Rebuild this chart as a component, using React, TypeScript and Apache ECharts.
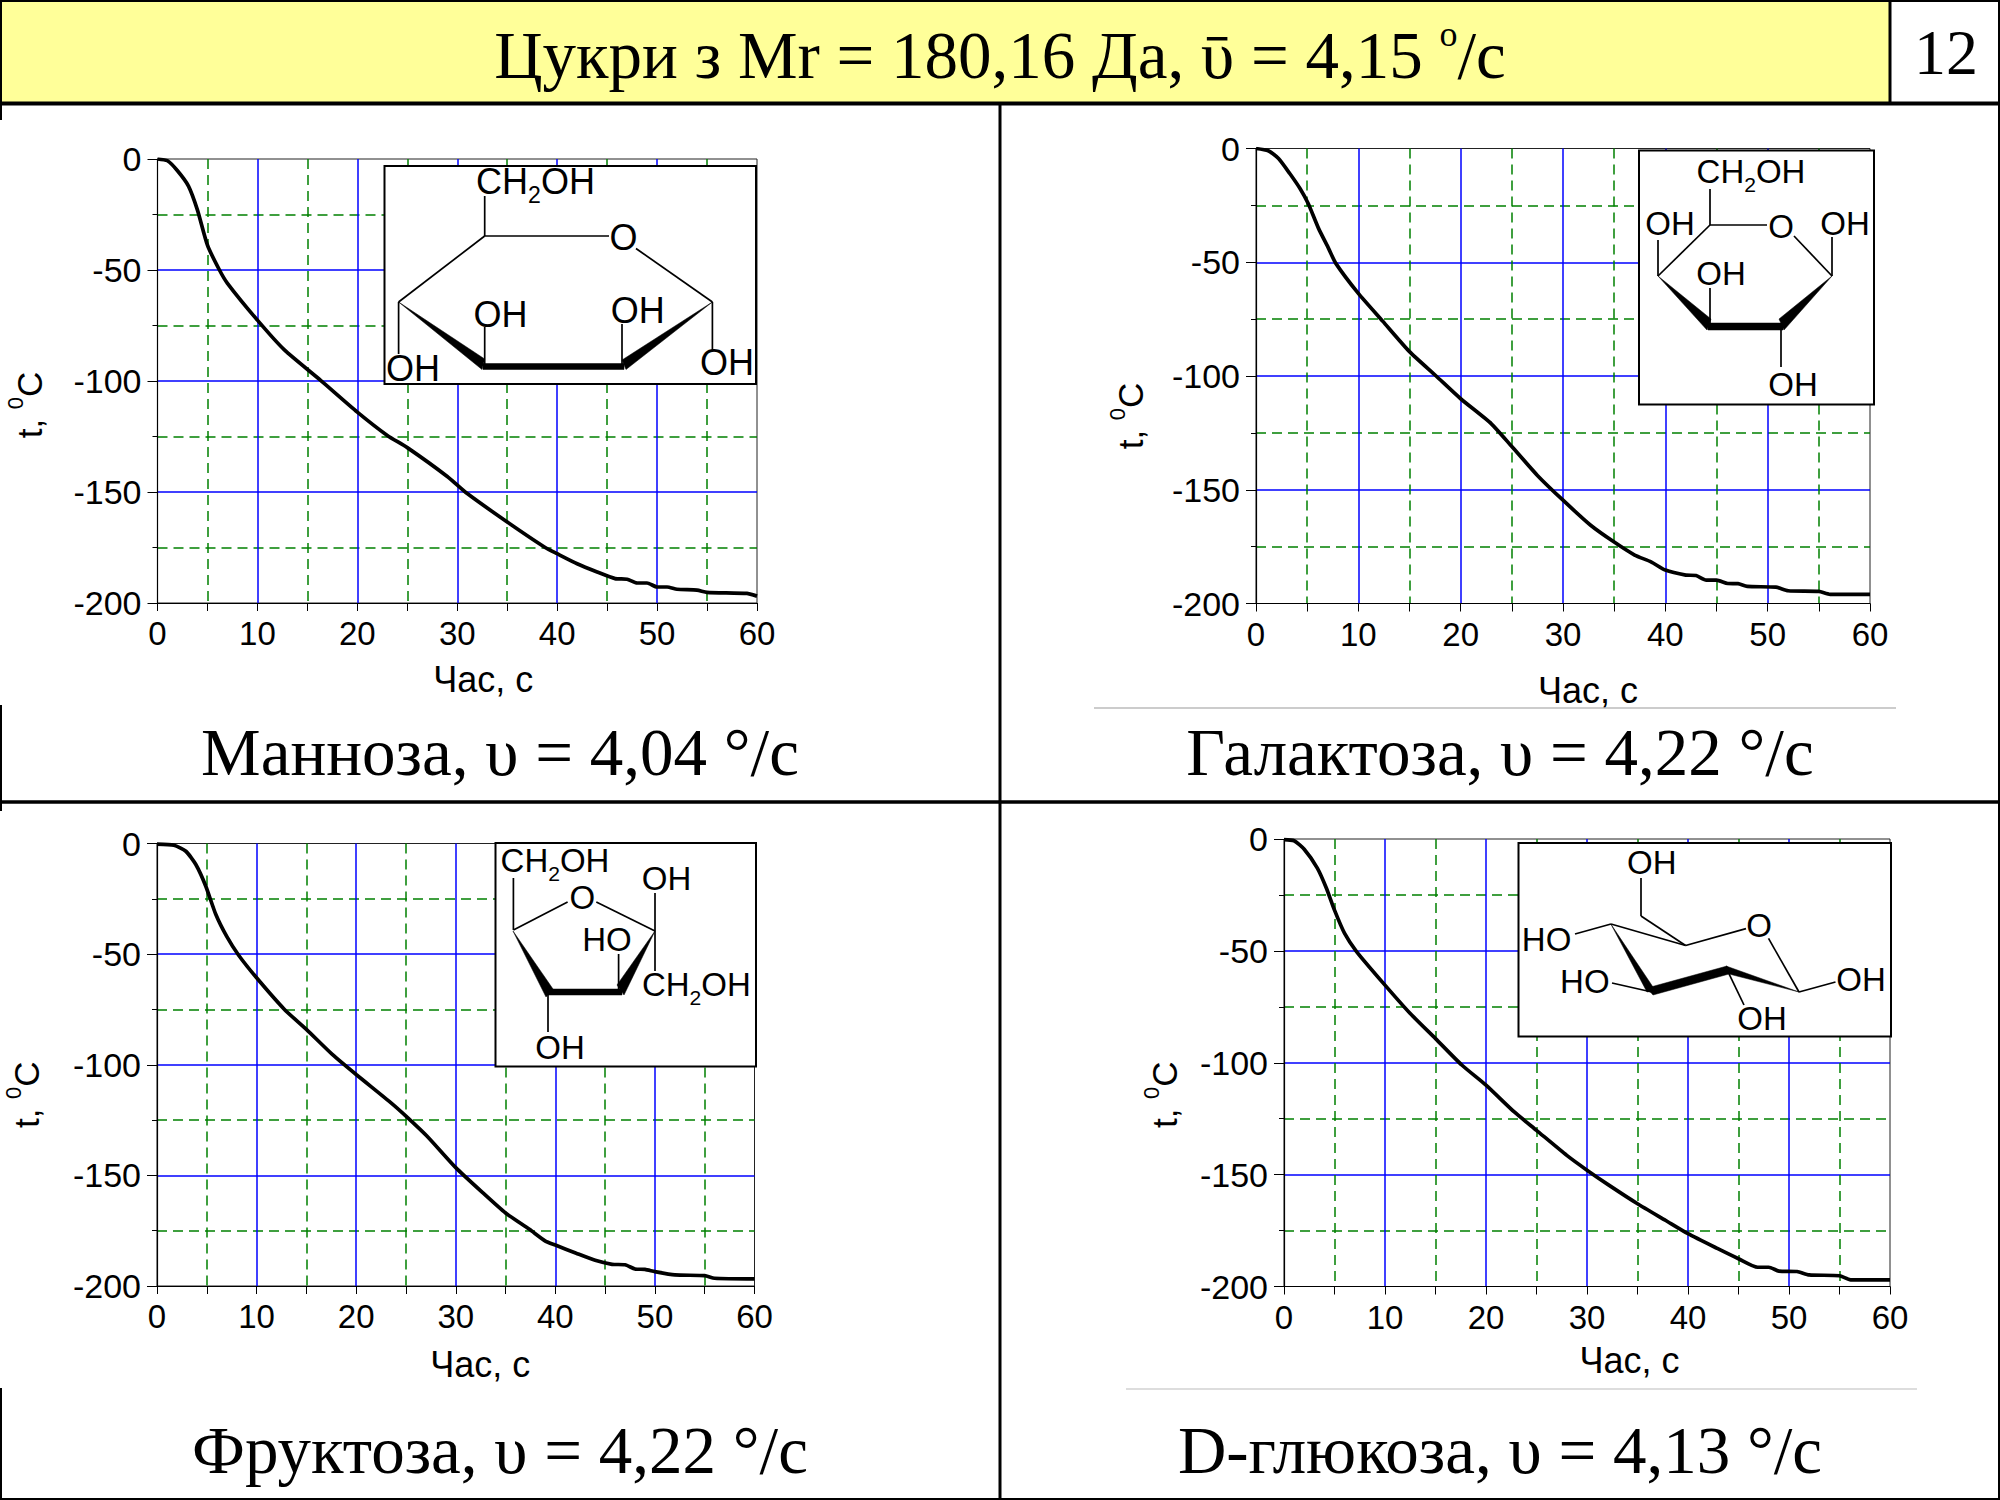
import React, { useEffect, useRef } from "react";
import * as echarts from "echarts";

// ---- data ----
const mannoseTime = [0,1,2,3.1,4,5,6.2,7,10,12.7,16.3,20,23,25,29,31,35,38.8,40,42,44,45.8,47,48,49,50,51,52,54,55,59,60];
const mannoseTemp = [0,-0.8,-5.3,-12.2,-23,-38.8,-50,-56,-72.6,-86,-99.6,-114,-124.5,-130,-143,-150.7,-163.5,-175,-177.8,-182.3,-186,-189,-189.3,-191,-191,-192.8,-192.8,-193.8,-194.2,-195.2,-195.7,-196.9];
const galactoseTime = [0,1.2,2.2,3.3,4.3,5.1,6.1,7.1,7.8,10,12.4,15,17.6,20,23,25,27.5,30,32.7,35,37,38.6,40,42,43,44,45,46.1,47.1,48,50.8,52,55,56.1,60];
const galactoseTemp = [0,-1,-4.4,-11,-17.6,-24.2,-35,-44,-50.5,-63.7,-76,-89.3,-100,-110,-121,-131,-143.7,-154.6,-165.6,-173,-178.7,-181.7,-185.3,-187.5,-187.7,-189.7,-189.7,-191.2,-191.3,-192.5,-192.8,-194.4,-194.7,-196,-196];
const fructoseTime = [0,1.7,2.9,3.9,4.9,5.9,7,8.2,10,12.8,15,17.6,20,23.5,25,27.1,30,32.7,35,37.4,39,40,42.1,44,45.7,47,48,49,50,52,55,56,60];
const fructoseTemp = [-0.3,-0.8,-3.5,-9.5,-19.3,-32,-42,-50.5,-60.7,-75,-84,-95.3,-104.4,-117.2,-123.2,-132.2,-146.5,-157.8,-167,-174.4,-179.7,-181.5,-185.2,-188.4,-190.2,-190.4,-192.3,-192.5,-193.5,-195,-195.3,-196.5,-196.8];
const glucoseTime = [0,1,2,3.3,4.2,5,6,7.2,10,12.5,15,17.6,20,22.8,25,28,30,32.2,35,37.8,40,42.9,45,46.9,48,49,50.8,52,55,56.1,60];
const glucoseTemp = [-0.3,-0.8,-4.6,-13,-22,-31.8,-42.2,-50.4,-65.3,-78,-89.2,-101,-110,-122,-130.2,-141.4,-148,-154.8,-163,-170.5,-176.4,-183,-187.6,-191.4,-191.4,-193.1,-193.3,-194.8,-195.2,-197,-197];

const headerTitle = "{n|Цукри з Mr = 180,16 Да, ῡ = 4,15 }{s|o}{n|/с}";
const pageNumber = "12";
const panelTitles = ["Манноза, υ = 4,04 °/с", "Галактоза, υ = 4,22 °/с", "Фруктоза, υ = 4,22 °/с", "D-глюкоза, υ = 4,13 °/с"];
const xName = "Час, с";
const yName = "{c|t, }{s|0}{c|C}";

// ---- layout ----
const SANS = "Liberation Sans";
const SERIF = "Liberation Serif";
type P = [number, number];
const plots = [
  { l: 157.5, r: 757, t: 159, b: 603, xd: 26, xg: 58, yd: 24, yg: 111 },
  { l: 1256, r: 1870, t: 148.5, b: 603.5, xd: 25, xg: 69, yd: 40, yg: 108 },
  { l: 157, r: 754.5, t: 843.5, b: 1286, xd: 24.5, xg: 60, yd: 30, yg: 113 },
  { l: 1284, r: 1890, t: 839, b: 1286.5, xd: 42.5, xg: 56, yd: 32, yg: 102 },
];
const titleCenters: P[] = [[500, 752], [1500, 752], [500, 1450], [1500, 1450]];

type Inset = {
  box: [number, number, number, number];
  size: number;
  bonds: P[][];
  wedges: P[][];
  labels: [string, number, number][];
};
const CH2OH = "{c|CH}{s|2}{c|OH}";
const insets: Inset[] = [
  {
    box: [384.5, 166, 756, 384],
    size: 36,
    bonds: [
      [[484.7, 236], [609, 236]], [[636, 248.5], [712.4, 302]], [[484.7, 236], [398.6, 302]],
      [[484.7, 196], [484.7, 236]], [[484.7, 327], [484.7, 366]], [[622, 324], [622, 366]],
      [[398.6, 302], [398.6, 354]], [[712.4, 302], [712.4, 350]],
    ],
    wedges: [
      [[398.6, 302], [482, 369.5], [484.7, 359]],
      [[483, 363.5], [624, 363.5], [624, 369.5], [483, 369.5]],
      [[712.4, 302], [622, 360], [626, 369.5]],
    ],
    labels: [[CH2OH, 535.5, 182], ["OH", 500.6, 314], ["OH", 637.7, 310], ["OH", 413, 368], ["OH", 727, 362], ["O", 623.5, 237]],
  },
  {
    box: [1639, 150.5, 1874, 404.6],
    size: 33,
    bonds: [
      [[1710, 225], [1767, 225]], [[1794, 236], [1832, 276]], [[1710, 225], [1658, 276]],
      [[1710, 189], [1710, 225]], [[1658, 240], [1658, 276]], [[1832, 237], [1832, 276]],
      [[1710, 288], [1710, 326]], [[1781, 326], [1781, 367]],
    ],
    wedges: [
      [[1658, 276], [1707, 330], [1711, 319]],
      [[1708, 323], [1783, 323], [1783, 330], [1708, 330]],
      [[1832, 276], [1779, 319], [1784, 330]],
    ],
    labels: [[CH2OH, 1751, 172], ["OH", 1670, 223], ["OH", 1845, 223], ["OH", 1721, 273], ["OH", 1793, 384], ["O", 1781, 226]],
  },
  {
    box: [495.5, 843, 756, 1066.5],
    size: 33,
    bonds: [
      [[513.4, 930], [567.6, 902]], [[596.3, 902], [655, 931]],
      [[513.4, 878], [513.4, 930]], [[655, 893], [655, 971]],
      [[618.6, 954], [618.6, 992]], [[548, 992], [548, 1032]],
    ],
    wedges: [
      [[513, 931], [546, 997], [553, 989]],
      [[548, 989], [622, 989], [622, 995], [548, 995]],
      [[655, 931], [617, 985], [624, 995]],
    ],
    labels: [[CH2OH, 555, 861], ["OH", 666.5, 878], ["HO", 607, 939], [CH2OH, 696.4, 985], ["OH", 560, 1047.8], ["O", 582.3, 897]],
  },
  {
    box: [1518.5, 843, 1891, 1036.6],
    size: 33,
    bonds: [
      [[1611, 924], [1685.6, 945.5]], [[1685.6, 945.5], [1746, 928.6]], [[1768.5, 938.4], [1799, 992]],
      [[1685.6, 945.5], [1641, 916]], [[1641, 916], [1641, 878]], [[1611, 924], [1575, 934]],
      [[1651.8, 992], [1612, 983]], [[1727, 969.6], [1744, 1005]], [[1799, 992], [1835.5, 982]],
    ],
    wedges: [
      [[1611, 924.3], [1647, 992], [1655, 990]],
      [[1647, 988], [1727, 966], [1729, 974], [1653, 995]],
      [[1726, 966], [1729, 974], [1799, 992]],
    ],
    labels: [["OH", 1651.8, 862.5], ["HO", 1546.6, 939], ["HO", 1584.8, 981.7], ["OH", 1861, 979.5], ["OH", 1762, 1018.8], ["O", 1759, 925]],
  },
];

function richChem(size: number) {
  return {
    c: { fontFamily: SANS, fontSize: size, lineHeight: size + 7, verticalAlign: "top", fill: "#000", color: "#000" },
    s: { fontFamily: SANS, fontSize: size * 0.64, lineHeight: size * 0.64, verticalAlign: "bottom", fill: "#000", color: "#000" },
  };
}

function line(p: P[], width: number, color = "#000") {
  return {
    type: "polyline",
    z: 20,
    shape: { points: p },
    style: { stroke: color, lineWidth: width, fill: "none" },
  };
}
function hline(x1: number, y1: number, x2: number, y2: number, w: number, color = "#000") {
  return { type: "line", z: 30, shape: { x1, y1, x2, y2 }, style: { stroke: color, lineWidth: w } };
}
function label(text: string, x: number, y: number, size: number, family: string, rich?: any) {
  return {
    type: "text",
    z: 25,
    x,
    y,
    style: { text, align: "center", verticalAlign: "middle", fontFamily: family, fontSize: size, fill: "#000", rich },
  };
}

function buildGraphic() {
  const els: any[] = [];
  // frame
  els.push({ type: "rect", z: 1, shape: { x: 0, y: 0, width: 1890, height: 102 }, style: { fill: "#FFFF99" } });
  els.push(hline(0, 1, 2000, 1, 2));
  els.push(hline(0, 103.5, 2000, 103.5, 4));
  els.push(hline(1890, 0, 1890, 104, 3));
  els.push(hline(1000, 104, 1000, 1500, 3));
  els.push(hline(0, 802, 2000, 802, 3.5));
  els.push(hline(0, 1499, 2000, 1499, 2));
  els.push(hline(1, 0, 1, 120, 2));
  els.push(hline(1, 705, 1, 811, 2));
  els.push(hline(1, 1388, 1, 1500, 2));
  els.push(hline(1999, 0, 1999, 1500, 2));
  els.push(hline(1094, 708, 1896, 708, 1, "#999"));
  els.push(hline(1126, 1389, 1917, 1389, 1, "#bbb"));
  els.push(
    label(headerTitle, 1000, 52, 67, SERIF, {
      n: { fontFamily: SERIF, fontSize: 67, fill: "#000", color: "#000", lineHeight: 72, verticalAlign: "bottom" },
      s: { fontFamily: SERIF, fontSize: 36, fill: "#000", color: "#000", lineHeight: 36, verticalAlign: "top" },
    })
  );
  els.push(label(pageNumber, 1946, 52, 64, SERIF));
  panelTitles.forEach((t, i) => els.push(label(t, titleCenters[i][0], titleCenters[i][1], 67, SERIF)));
  // structural formulas
  insets.forEach((ins) => {
    const [x1, y1, x2, y2] = ins.box;
    els.push({
      type: "rect",
      z: 15,
      shape: { x: x1, y: y1, width: x2 - x1, height: y2 - y1 },
      style: { fill: "#fff", stroke: "#000", lineWidth: 2 },
    });
    ins.bonds.forEach((b) => els.push(line(b, 1.7)));
    ins.wedges.forEach((w) =>
      els.push({ type: "polygon", z: 20, shape: { points: w }, style: { fill: "#000", stroke: "#000", lineWidth: 0.5 } })
    );
    ins.labels.forEach(([t, x, y]) => {
      const isRich = t.startsWith("{");
      els.push(label(t, x, isRich ? y + 3 : y, ins.size, SANS, isRich ? richChem(ins.size) : undefined));
    });
  });
  return els;
}

function zip(xs: number[], ys: number[]) {
  return xs.map((x, i) => [x, ys[i]]);
}

const seriesData = [
  zip(mannoseTime, mannoseTemp),
  zip(galactoseTime, galactoseTemp),
  zip(fructoseTime, fructoseTemp),
  zip(glucoseTime, glucoseTemp),
];

function buildOption() {
  const minor = { show: true, lineStyle: { color: "#008000", width: 1.5, type: [10, 6] as any } };
  const major = { show: true, showMinLine: false, showMaxLine: false, lineStyle: { color: "#0000FF", width: 1.5 } };
  return {
    animation: false,
    backgroundColor: "#fff",
    graphic: { elements: buildGraphic() },
    grid: plots.map((p) => ({
      left: p.l,
      top: p.t,
      width: p.r - p.l,
      height: p.b - p.t,
      show: true,
      borderColor: "#222",
      borderWidth: 1,
      backgroundColor: "transparent",
      containLabel: false,
    })),
    xAxis: plots.map((p, i) => ({
      type: "value",
      gridIndex: i,
      min: 0,
      max: 60,
      interval: 10,
      name: xName,
      nameLocation: "middle",
      nameGap: p.xg,
      nameTextStyle: { color: "#000", fontFamily: SANS, fontSize: 36, padding: [0, 0, 0, 2 * p.xd] },
      axisLine: { show: true, onZero: false, lineStyle: { color: "#000", width: 1.2 } },
      axisTick: { show: true, length: 8, lineStyle: { color: "#000", width: 1 } },
      minorTick: { show: true, splitNumber: 2, length: 8, lineStyle: { color: "#000", width: 1 } },
      axisLabel: { color: "#000", fontFamily: SANS, fontSize: 33, margin: 14, hideOverlap: false, showMinLabel: true, showMaxLabel: true },
      splitLine: major,
      minorSplitLine: minor,
    })),
    yAxis: plots.map((p, i) => ({
      type: "value",
      gridIndex: i,
      min: -200,
      max: 0,
      interval: 50,
      name: yName,
      nameLocation: "middle",
      nameRotate: 90,
      nameGap: p.yg,
      nameTextStyle: {
        color: "#000",
        fontFamily: SANS,
        fontSize: 35,
        padding: [0, 2 * p.yd, 0, 0],
        rich: {
          c: { fontFamily: SANS, fontSize: 35, color: "#000", lineHeight: 42, verticalAlign: "bottom" },
          s: { fontFamily: SANS, fontSize: 22, color: "#000", lineHeight: 22, verticalAlign: "top" },
        },
      },
      axisLine: { show: true, onZero: false, lineStyle: { color: "#000", width: 1.2 } },
      axisTick: { show: true, length: 10, lineStyle: { color: "#000", width: 1 } },
      minorTick: { show: true, splitNumber: 2, length: 5, lineStyle: { color: "#000", width: 1 } },
      axisLabel: { color: "#000", fontFamily: SANS, fontSize: 34, margin: 16, hideOverlap: false, showMinLabel: true, showMaxLabel: true },
      splitLine: major,
      minorSplitLine: minor,
    })),
    series: seriesData.map((d, i) => ({
      type: "line",
      xAxisIndex: i,
      yAxisIndex: i,
      data: d,
      showSymbol: false,
      smooth: 0.2,
      z: 5,
      lineStyle: { color: "#000", width: 3.7 },
    })),
  };
}

export default function App() {
  const ref = useRef<HTMLDivElement>(null);
  useEffect(() => {
    document.body.style.margin = "0";
    const chart = echarts.init(ref.current!, undefined, { renderer: "svg" });
    chart.setOption(buildOption() as any);
    return () => chart.dispose();
  }, []);
  return <div ref={ref} style={{ width: 2000, height: 1500 }} />;
}
